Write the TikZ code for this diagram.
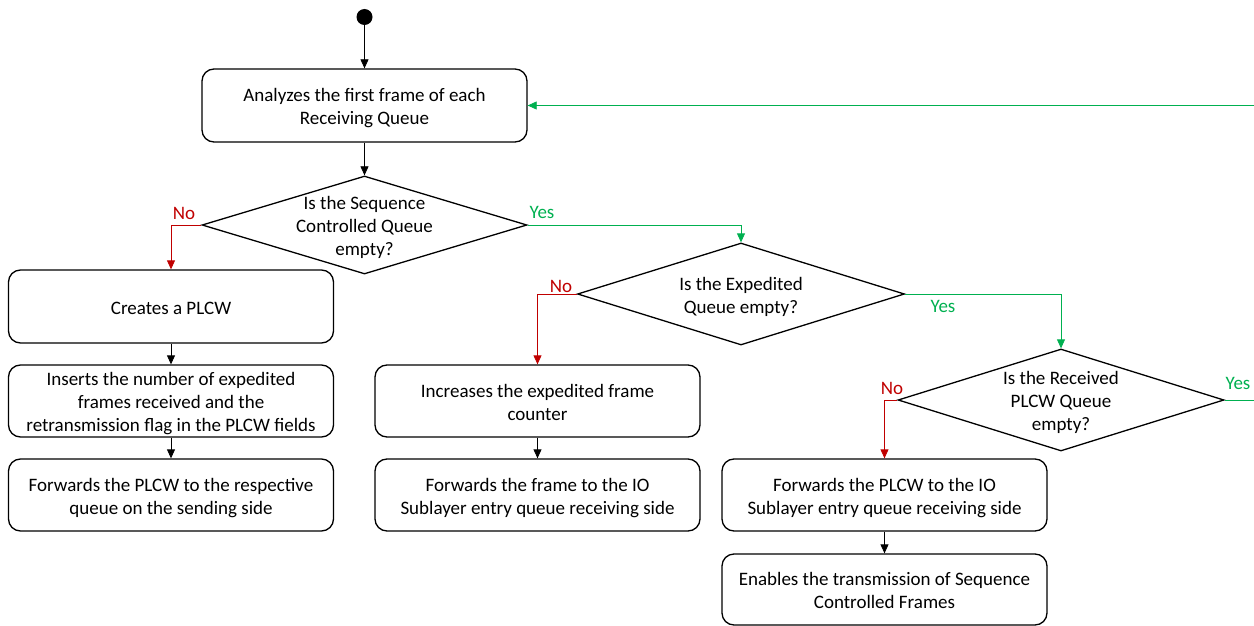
\documentclass[tikz,border=0pt]{standalone}
\usepackage{fontspec}
\setmainfont{Carlito}
\usetikzlibrary{arrows.meta,shapes.geometric}
\definecolor{noRed}{HTML}{C00000}
\definecolor{yesGreen}{HTML}{00B050}
% struts that give each text block the line box of the body font
\newcommand\tstr{\rule{0pt}{19pt}}
\newcommand\bstr{\rule[-4pt]{0pt}{4pt}}
\begin{document}
\begin{tikzpicture}[x=1pt,y=-1pt,
  every node/.style={font=\fontsize{19}{23}\selectfont},
  proc/.style={draw=black, line width=1.3pt, rounded corners=12pt,
    minimum width=325pt, minimum height=73pt, inner sep=0pt, align=center},
  decision/.style={draw=black, line width=1.3pt, diamond, inner sep=0pt},
  dtext/.style={align=center, inner sep=0pt},
  flow/.style={draw=black, line width=0.8pt, -{Triangle[length=9pt,width=8pt]}},
  noflow/.style={draw=noRed, line width=0.8pt, -{Triangle[length=9pt,width=8pt]}},
  yesflow/.style={draw=yesGreen, line width=0.8pt, -{Triangle[length=9pt,width=8pt]}},
  yesline/.style={draw=yesGreen, line width=0.8pt},
  nolabel/.style={text=noRed, inner sep=0pt},
  yeslabel/.style={text=yesGreen, inner sep=0pt}]
\useasboundingbox (0,0) rectangle (1254,626);

% start point
\node[circle, fill=black, minimum size=16pt, inner sep=0pt] (start) at (364.5,17) {};

% first column of steps
\node[proc] (analyze) at (364.5,105.5) {\tstr Analyzes the first frame of each\\Receiving Queue\bstr};
\node[decision, minimum width=325pt, minimum height=98pt] (q1) at (364.5,225) {};
\node[dtext] (q1t) at (364.5,225) {\tstr Is the Sequence\\Controlled Queue\\empty?\bstr};

\node[proc] (create) at (171,306.5) {\tstr Creates a PLCW\bstr};
\node[proc, minimum height=72pt] (insert) at (171,401) {\tstr Inserts the number of expedited\\frames received and the\\retransmission flag in the PLCW fields\bstr};
\node[proc, minimum height=72pt] (fwdsend) at (171,495) {\tstr Forwards the PLCW to the respective\\queue on the sending side\bstr};

% expedited queue branch
\node[decision, minimum width=327pt, minimum height=102pt] (q2) at (741,294) {};
\node[dtext] (q2t) at (741,294) {\tstr Is the Expedited\\Queue empty?\bstr};
\node[proc, minimum height=72pt] (incr) at (537.5,401) {\tstr Increases the expedited frame\\counter\bstr};
\node[proc, minimum height=72pt] (fwdframe) at (537.5,495) {\tstr Forwards the frame to the IO\\Sublayer entry queue receiving side\bstr};

% received PLCW queue branch
\node[decision, minimum width=326pt, minimum height=102pt] (q3) at (1061,400) {};
\node[dtext] (q3t) at (1061,400) {\tstr Is the Received\\PLCW Queue\\empty?\bstr};
\node[proc, minimum height=72pt] (fwdplcw) at (884.5,495) {\tstr Forwards the PLCW to the IO\\Sublayer entry queue receiving side\bstr};
\node[proc, minimum height=71pt] (enable) at (884.5,589.5) {\tstr Enables the transmission of Sequence\\Controlled Frames\bstr};

% loop ends at the right edge
\coordinate (loopout) at (1254,400);
\coordinate (loopin) at (1254,105.5);

% connectors
\draw[flow] (start) -- (analyze);
\draw[flow] (analyze) -- (q1);
\draw[noflow] (q1.west) -| (create.north);
\draw[yesflow] (q1.east) -| (q2.north);
\draw[flow] (create) -- (insert);
\draw[flow] (insert) -- (fwdsend);
\draw[noflow] (q2.west) -| (incr.north);
\draw[yesflow] (q2.east) -| (q3.north);
\draw[flow] (incr) -- (fwdframe);
\draw[noflow] (q3.west) -| (fwdplcw.north);
\draw[flow] (fwdplcw) -- (enable);
\draw[yesline] (q3.east) -- (loopout);
\draw[yesflow] (loopin) -- (analyze.east);

% branch labels
\node[nolabel] (no1) at (184,213) {No};
\node[yeslabel] (yes1) at (542,212) {Yes};
\node[nolabel] (no2) at (561,286) {No};
\node[yeslabel] (yes2) at (943,306) {Yes};
\node[nolabel] (no3) at (892,388) {No};
\node[yeslabel] (yes3) at (1238,383) {Yes};
\end{tikzpicture}
\end{document}
